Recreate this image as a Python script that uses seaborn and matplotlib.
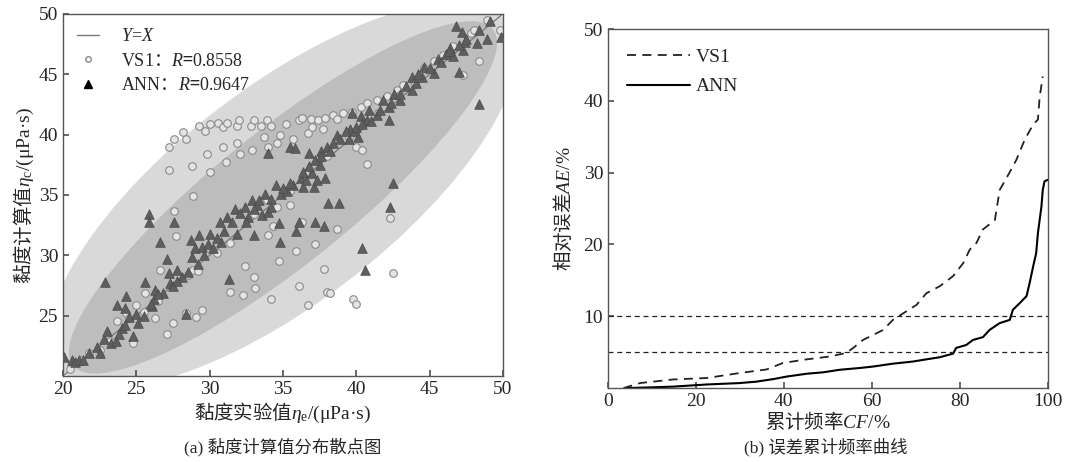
import numpy as np
import pandas as pd
import seaborn as sns
import matplotlib.pyplot as plt
from matplotlib.patches import Ellipse
from matplotlib.lines import Line2D

# ---- (a) scatter data ----
vs1_exp = [27.2, 27.2, 27.6, 28.2, 28.4, 28.8, 28.9, 29.3, 29.7, 29.8, 30.0, 30.0, 30.6, 30.9,
           30.9, 31.1, 31.2, 31.9, 32.0, 31.9, 32.1, 32.8, 32.9, 33.0, 33.5, 33.7, 33.9, 34.0,
           34.2, 34.6, 34.8, 35.2, 35.7, 36.1, 36.3, 36.7, 36.9, 37.0, 37.4, 37.7, 37.9, 38.4,
           38.7, 39.1, 39.7, 40.0, 40.4, 40.7, 40.3, 40.7, 41.4,
           42.1, 42.8, 43.2, 43.9, 44.6, 45.3, 45.9, 46.6, 47.3, 47.8, 48.4, 48.9, 49.8, 48.0,
           20.5, 21.2, 21.8, 22.5, 23.2, 23.7, 24.3, 24.8, 25.0, 25.6, 26.3, 26.6, 27.1, 27.5,
           27.7, 27.6, 28.4, 28.9, 29.2, 29.1, 29.5, 31.4, 31.4, 32.4, 32.3, 33.0, 33.1, 33.9,
           34.0, 34.2, 34.3, 34.6, 34.7, 35.5, 35.9, 36.1, 36.3, 36.7, 37.2, 37.8, 38.0, 38.2,
           38.7, 39.8, 40.0, 42.3, 42.5,
           24.5, 25.5, 26.5, 28.5, 30.5, 33.0, 35.5, 36.5, 38.0, 39.5, 41.5, 43.0, 44.0]
vs1_calc = [39.0, 37.1, 39.6, 40.2, 39.6, 37.4, 34.9, 40.7, 40.3, 38.4, 40.9, 36.9, 41.0, 40.6,
            39.0, 37.7, 41.0, 40.7, 41.2, 39.3, 38.4, 40.7, 38.7, 41.2, 40.7, 39.8, 41.2, 39.0,
            40.7, 39.3, 40.0, 40.9, 39.6, 41.2, 41.4, 40.1, 41.3, 40.6, 41.2, 40.5, 41.4, 41.6,
            41.3, 41.8, 41.9, 39.0, 38.7, 37.6, 42.3, 42.6, 42.9,
            43.2, 43.7, 44.1, 44.5, 45.5, 46.1, 46.6, 47.3, 44.9, 48.4, 46.1, 49.5, 48.7, 48.7,
            20.6, 21.3, 21.9, 22.2, 22.9, 24.6, 25.2, 22.7, 25.9, 26.9, 24.8, 28.8, 23.5, 24.4,
            31.6, 33.7, 25.2, 28.8, 28.7, 24.9, 25.5, 31.0, 27.0, 29.1, 26.7, 28.2, 27.3, 34.6,
            31.7, 26.4, 32.4, 34.0, 29.5, 34.2, 30.4, 27.5, 32.8, 25.9, 30.9, 28.9, 27.0, 26.9,
            32.2, 26.4, 26.0, 33.1, 28.5,
            24.8, 25.3, 26.2, 28.4, 30.2, 33.4, 35.3, 36.8, 38.2, 39.8, 41.8, 43.3, 44.2]

ann_exp = [20.1, 20.6, 20.8, 21.1, 21.4, 21.8, 22.3, 22.5, 22.8, 23.0, 23.3, 23.6, 22.9, 23.7,
           24.0, 24.2, 24.3, 24.5, 24.8, 25.0, 25.1, 25.6, 25.9, 25.9, 26.1, 26.2, 26.3, 26.6,
           26.8, 27.1, 27.2, 27.3, 27.5, 27.6, 27.8, 28.1, 28.4, 28.7, 28.8, 29.0, 29.3, 29.5,
           29.6, 29.9, 30.0, 30.7, 30.8, 31.2, 31.3, 31.5, 31.7, 31.9, 32.1, 32.4, 32.6, 32.9,
           33.0, 33.2, 33.6, 33.8, 34.0, 34.0, 34.2, 34.5, 34.7, 34.8, 34.9, 35.3, 35.5, 35.8,
           35.7, 35.9, 36.1, 36.2, 36.4, 36.6, 36.8, 37.0, 37.1, 37.2, 37.3, 37.5, 37.6, 37.8,
           37.9, 38.0, 38.1, 38.8, 38.4, 38.7, 39.5, 39.6, 39.7, 39.9, 40.1, 40.3, 40.4, 40.6,
           40.7, 40.9, 41.4, 41.8, 42.2, 42.3, 42.5, 42.2, 42.6, 43.0, 43.4, 43.8, 44.1, 44.6,
           44.5, 45.3, 45.6, 46.1, 46.4, 46.6, 46.8, 47.0, 47.2, 47.3, 47.4, 48.2, 48.4, 48.4,
           48.9, 49.1, 49.9,
           23.8, 24.2, 25.5, 26.0, 26.5, 27.8, 28.5, 29.2, 30.2, 30.5, 31.0, 32.5, 33.0, 33.4,
           34.2, 35.0, 35.5, 36.4, 36.8, 37.2, 37.6, 38.2, 38.9, 39.3, 40.0, 40.4, 41.0, 41.6,
           42.4, 43.0, 43.8, 44.2, 45.0, 45.8, 46.3, 47.0, 47.5]
ann_calc = [21.6, 21.3, 21.2, 21.3, 21.3, 21.9, 22.4, 21.9, 23.1, 23.7, 22.7, 22.9, 27.8, 25.9,
            24.0, 25.6, 26.6, 24.9, 23.3, 25.1, 24.4, 27.8, 33.4, 32.8, 25.8, 26.4, 27.1, 31.1,
            26.9, 29.7, 28.5, 27.7, 27.5, 32.8, 28.8, 28.2, 25.1, 31.3, 29.9, 30.6, 31.7, 30.7,
            30.0, 30.9, 31.8, 32.8, 31.1, 33.2, 28.0, 32.8, 33.8, 31.8, 33.5, 34.0, 33.2, 34.6,
            31.7, 34.2, 33.3, 35.1, 38.5, 33.6, 34.7, 35.8, 32.7, 31.1, 35.1, 35.3, 39.0, 38.9,
            35.8, 32.0, 32.8, 36.4, 35.7, 36.2, 38.5, 36.8, 35.7, 32.8, 36.2, 37.5, 38.6, 32.4,
            36.4, 39.0, 34.3, 34.3, 39.3, 40.0, 39.6, 40.5, 41.8, 40.3, 39.8, 41.5, 30.6, 28.8,
            41.2, 42.0, 41.6, 42.9, 42.3, 34.0, 36.0, 41.2, 43.4, 42.9, 44.0, 44.8, 44.3, 45.6,
            44.8, 45.1, 46.3, 46.7, 47.2, 46.5, 49.0, 45.2, 48.5, 47.0, 47.7, 47.6, 42.5, 48.7,
            47.9, 49.4, 48.1,
            23.5, 24.2, 25.0, 26.0, 26.8, 27.9, 28.6, 29.3, 30.6, 31.4, 32.0, 32.8, 33.8, 34.6,
            34.0, 35.6, 36.0, 36.9, 37.4, 37.9, 38.2, 38.6, 39.6, 40.3, 40.6, 40.9, 41.1, 42.0,
            42.6, 43.4, 43.7, 45.0, 45.5, 46.0, 46.9, 47.4, 47.9]

# ---- (b) cumulative frequency curves ----
vs1_cf = [3.5, 7.3, 14.8, 22.4, 30.0, 36.1, 39.8, 45.2, 50.5, 54.2, 55.8, 58.0, 62.6, 64.8,
          67.9, 70.2, 72.4, 75.5, 78.5, 80.8, 82.3, 83.8, 85.3, 88.0, 89.1, 90.6, 92.9, 94.8,
          96.7, 97.8, 98.2, 98.9]
vs1_ae = [0.0, 0.7, 1.2, 1.4, 2.1, 2.6, 3.5, 4.0, 4.4, 4.9, 5.6, 6.7, 8.1, 9.5,
          10.7, 11.6, 13.2, 14.2, 15.6, 17.4, 19.3, 20.2, 22.1, 23.4, 27.6, 29.2, 31.8, 34.6,
          36.7, 37.4, 40.6, 43.4]
ann_cf = [4.5, 14.8, 22.4, 30.0, 33.8, 37.6, 40.6, 45.2, 49.0, 52.7, 57.3, 60.3, 64.8, 69.4,
          72.4, 75.5, 78.5, 79.2, 81.5, 83.0, 85.3, 86.8, 89.1, 91.4, 92.1, 93.6, 95.2, 95.9,
          96.7, 97.4, 97.8, 98.6, 98.9, 99.3, 100.0]
ann_ae = [0.0, 0.2, 0.5, 0.7, 0.9, 1.25, 1.6, 2.0, 2.2, 2.55, 2.8, 3.0, 3.4, 3.7,
          4.0, 4.3, 4.8, 5.6, 6.0, 6.7, 7.1, 8.1, 9.05, 9.5, 10.9, 11.8, 12.8, 14.6,
          16.9, 18.8, 21.6, 25.3, 27.6, 28.8, 29.0]

CJK = 'Noto Sans CJK SC'

sns.set_theme(style='ticks')
plt.rcParams['font.family'] = ['Liberation Serif', CJK]
# mathtext: Latin parts in Times-like serif; plain (non-math) part uses the text's own font
plt.rcParams['mathtext.fontset'] = 'custom'
plt.rcParams['mathtext.rm'] = 'Liberation Serif'
plt.rcParams['mathtext.it'] = 'Liberation Serif:italic'
plt.rcParams['mathtext.bf'] = 'Liberation Serif:bold'
plt.rcParams['xtick.direction'] = 'in'
plt.rcParams['ytick.direction'] = 'in'

fig = plt.figure(figsize=(10.8, 4.62), dpi=100)
ax1 = fig.add_axes([0.0583, 0.186, 0.4074, 0.784])
ax2 = fig.add_axes([0.563, 0.160, 0.407, 0.777])

# ---- panel (a) ----
ax1.add_patch(Ellipse((35, 35), 42, 16.4, angle=45, facecolor='#d9d9d9', edgecolor='none', zorder=0))
ax1.add_patch(Ellipse((35, 34.8), 40, 10.2, angle=45, facecolor='#bdbdbd', edgecolor='none', zorder=0.5))
ax1.plot([20, 50], [20, 50], color='#777777', lw=0.9, zorder=1)

df_vs1 = pd.DataFrame({'exp': vs1_exp, 'calc': vs1_calc})
df_ann = pd.DataFrame({'exp': ann_exp, 'calc': ann_calc})
sns.scatterplot(data=df_vs1, x='exp', y='calc', ax=ax1, marker='o', s=30,
                color='#e4e4e4', edgecolor='#8a8a8a', linewidth=0.8, zorder=2)
sns.scatterplot(data=df_ann, x='exp', y='calc', ax=ax1, marker='^', s=48,
                color='#5e5e5e', edgecolor='#4a4a4a', linewidth=0.5, zorder=3)

ax1.set_xlim(20, 50)
ax1.set_ylim(20, 50)
ax1.set_xticks(range(20, 51, 5))
ax1.set_yticks(range(25, 51, 5))
ax1.tick_params(labelsize=14, length=4, color='#555555')
ax1.set_xlabel(r'黏度实验值$\eta_\mathrm{e}\mathrm{/(μPa·s)}$', fontsize=14, labelpad=2,
               fontfamily=CJK)
ax1.set_ylabel(r'黏度计算值$\eta_\mathrm{c}\mathrm{/(μPa·s)}$', fontsize=14, labelpad=2,
               fontfamily=CJK)

handles = [Line2D([], [], color='#777777', lw=1),
           Line2D([], [], marker='o', ls='none', markersize=4, markerfacecolor='white',
                  markeredgecolor='#888888'),
           Line2D([], [], marker='^', ls='none', markersize=6, color='black')]
labels = [r'$Y$=$X$', r'$\mathrm{VS1}$：$R$=$\mathrm{0.8558}$', r'$\mathrm{ANN}$：$R$=$\mathrm{0.9647}$']
leg = ax1.legend(handles, labels, loc='upper left', frameon=False, fontsize=13,
                 handlelength=1.2, handletextpad=1.2, borderaxespad=0.4, labelspacing=0.35)
for t in leg.get_texts()[1:]:
    t.set_fontfamily(CJK)

# ---- panel (b) ----
sns.lineplot(x=vs1_cf, y=vs1_ae, ax=ax2, color='#222222', lw=1.3, linestyle=(0, (5, 3.5)),
             label='VS1', sort=False)
sns.lineplot(x=ann_cf, y=ann_ae, ax=ax2, color='black', lw=1.5, label='ANN', sort=False)
ax2.axhline(10, color='#222222', lw=0.9, linestyle=(0, (4, 3)))
ax2.axhline(5, color='#222222', lw=0.9, linestyle=(0, (4, 3)))
ax2.set_xlim(0, 100)
ax2.set_ylim(0, 50)
ax2.set_xticks(range(0, 101, 20))
ax2.set_yticks(range(10, 51, 10))
ax2.tick_params(labelsize=14, length=4, color='#555555')
ax2.set_xlabel(r'累计频率$CF\mathrm{/\%}$', fontsize=14, labelpad=0, fontfamily=CJK)
ax2.set_ylabel(r'相对误差$AE\mathrm{/\%}$', fontsize=14, labelpad=6, fontfamily=CJK)
ax2.legend(loc='upper left', frameon=False, fontsize=14, handlelength=3.2,
           handletextpad=0.3, borderaxespad=0.6, labelspacing=0.6)

for ax in (ax1, ax2):
    for sp in ax.spines.values():
        sp.set_color('#555555')
        sp.set_linewidth(1.0)

fig.text(0.262, 0.02, '(a) 黏度计算值分布散点图', ha='center', fontsize=12.5)
fig.text(0.765, 0.02, '(b) 误差累计频率曲线', ha='center', fontsize=12.5)

fig.savefig('out.png', dpi=100)
